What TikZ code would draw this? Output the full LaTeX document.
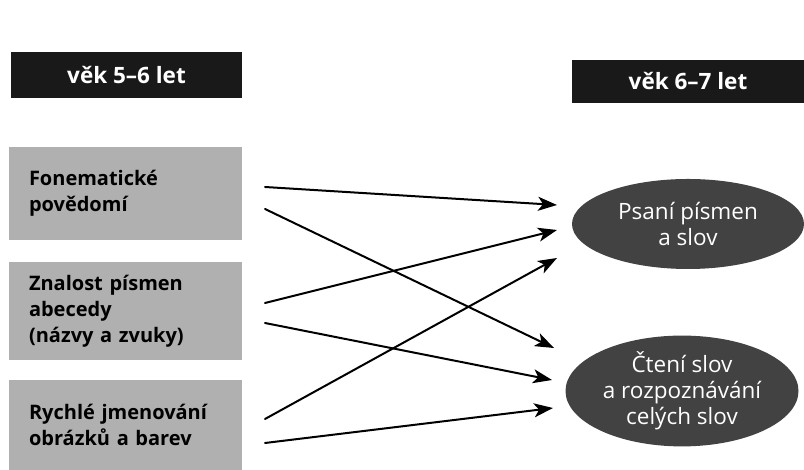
\documentclass[tikz,border=0pt]{standalone}
\usepackage{fontspec}
\setmainfont{Open Sans}
\usepackage{pgf,tikz}
\usetikzlibrary{arrows.meta,shapes.geometric}
\definecolor{sqsqsq}{rgb}{0.1,0.1,0.1}
\definecolor{afafaf}{rgb}{0.69,0.69,0.69}
\definecolor{wvwvwv}{rgb}{0.26,0.26,0.26}

\begin{document}
\begin{tikzpicture}[line cap=round,line join=round,>={Stealth[length=19pt,width=14pt,inset=5pt]},x=1pt,y=1pt,
hdr/.style={fill=sqsqsq,text=white,font=\fontsize{22.5}{26}\selectfont\bfseries,inner sep=0pt},
skill/.style={fill=afafaf,text=black,font=\fontsize{20}{26}\selectfont\bfseries,align=left,inner xsep=20pt,inner ysep=0pt,text width=193pt,anchor=center},
goal/.style={ellipse,fill=wvwvwv,text=white,font=\fontsize{22.5}{26}\selectfont,align=center,inner sep=0pt},
link/.style={line width=2pt,->}]
\useasboundingbox (0,0) rectangle (804,470);
\fill[white] (0,0) rectangle (804,470);
% headers
\node[hdr,minimum width=231pt,minimum height=46pt] (age1) at (126.5,395) {věk 5–6 let};
\node[hdr,minimum width=232pt,minimum height=43pt] (age2) at (688,388.5) {věk 6–7 let};
% left boxes
\node[skill,minimum height=93pt] (phon) at (125.5,276.5) {Fonematické\\povědomí};
\node[skill,minimum height=98pt] (lett) at (125.5,159) {Znalost písmen\\abecedy\\(názvy a zvuky)};
\node[skill,minimum height=90pt] (rapid) at (125.5,45) {Rychlé jmenování\\obrázků a barev};
% right ellipses
\node[goal,minimum width=232pt,minimum height=90pt] (write) at (688,246) {Psaní písmen\\a slov};
\node[goal,minimum width=233pt,minimum height=108pt] (read) at (682,79) {Čtení slov\\a rozpoznávání\\celých slov};
% arrow ends
\coordinate (s1) at (265,283);
\coordinate (s2) at (265,261);
\coordinate (s3) at (265,167);
\coordinate (s4) at (265,147);
\coordinate (s5) at (265,51);
\coordinate (s6) at (265,27);
\coordinate (e1) at (557,265);
\coordinate (e2) at (554,122);
\coordinate (e3) at (557,240);
\coordinate (e4) at (552,90);
\coordinate (e5) at (557,212);
\coordinate (e6) at (553,62);
\draw[link] (s1) -- (e1);
\draw[link] (s2) -- (e2);
\draw[link] (s3) -- (e3);
\draw[link] (s4) -- (e4);
\draw[link] (s5) -- (e5);
\draw[link] (s6) -- (e6);
\end{tikzpicture}
\end{document}
